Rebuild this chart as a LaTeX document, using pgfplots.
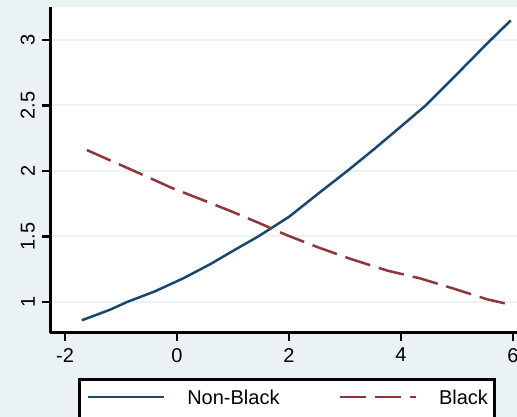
\documentclass[border=0pt]{standalone}
\usepackage{pgfplots}
\pgfplotsset{compat=1.18}
\usepackage{fontspec}
\setmainfont{Liberation Sans}
\definecolor{sbg}{HTML}{EAF2F3}
\definecolor{snavy}{HTML}{1A476F}
\definecolor{smaroon}{HTML}{90353B}
\begin{document}
\begin{tikzpicture}
\fill[sbg] (0pt,0pt) rectangle (517pt,417pt);
\useasboundingbox (0pt,0pt) rectangle (517pt,417pt);
\clip (0pt,0pt) rectangle (517pt,417pt);
\begin{axis}[
  at={(50pt,84pt)}, anchor=south west,
  scale only axis, width=467pt, height=326pt,
  xmin=-2.268, xmax=6.071, ymin=0.763, ymax=3.252,
  axis background/.style={fill=white},
  axis x line*=bottom, axis y line*=left,
  axis line style={line width=3pt, black, -},
  xtick={-2,0,2,4,6}, ytick={1,1.5,2,2.5,3},
  yticklabels={1,1.5,2,2.5,3},
  /pgf/number format/assume math mode=true,
  tick align=outside, major tick length=8pt,
  tick style={line width=2.5pt, black},
  minor tick num=0,
  ymajorgrids, grid style={sbg, line width=2pt},
  ticklabel style={font=\fontsize{20}{24}\selectfont, inner sep=0pt},
  yticklabel style={xshift=-7pt, rotate=90, anchor=south},
  xticklabel style={anchor=north, yshift=-7pt},
  legend columns=2,
  legend image code/.code={\draw[#1, line width=2.5pt] (0pt,4.2pt) -- (76pt,4.2pt);},
  legend style={
    at={(0.0606,-0.138)}, anchor=north west,
    draw=black, line width=3pt, fill=white,
    inner xsep=7pt, inner ysep=9.7pt,
    font=\fontsize{20}{24}\selectfont,
    nodes={inner sep=0pt, text height=15pt, text depth=9pt, anchor=west},
    /tikz/every odd column/.style={column sep=22pt},
    /tikz/every even column/.style={column sep=59pt},
  },
]
\addplot[snavy, line width=2.5pt, solid] coordinates {
(-1.70,0.86) (-1.20,0.94) (-0.89,1.00) (-0.40,1.08) (0.11,1.18) (0.60,1.29)
(1.00,1.39) (1.45,1.50) (2.00,1.65) (2.50,1.82) (3.04,2.00) (3.50,2.16)
(4.00,2.34) (4.44,2.50) (5.00,2.74) (5.53,2.97) (5.96,3.15)
};
\addlegendentry{Non-Black}
\addplot[smaroon, line width=2.5pt, dash pattern=on 26pt off 9pt] coordinates {
(-1.61,2.16) (-0.66,1.98) (-0.09,1.87) (0.45,1.78) (0.98,1.69) (1.48,1.60)
(1.96,1.51) (2.50,1.42) (3.09,1.33) (3.75,1.24) (4.34,1.18) (4.88,1.11)
(5.54,1.02) (5.95,0.98)
};
\addlegendentry{Black}
\end{axis}
\end{tikzpicture}
\end{document}
